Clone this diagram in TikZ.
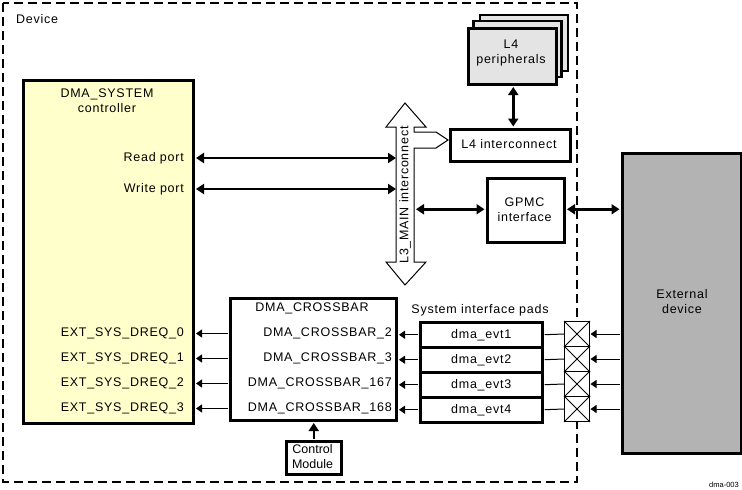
\documentclass[tikz,border=0pt]{standalone}
\usepackage{fontspec}
\setmainfont{Liberation Sans}[LetterSpace=6]
\usetikzlibrary{arrows.meta}
\newcommand\fs{\fontsize{12.5}{15}\selectfont}
\definecolor{dmayellow}{RGB}{255,255,204}
\definecolor{perigray}{RGB}{228,228,228}
\definecolor{extgray}{RGB}{179,179,179}
\tikzset{
  box/.style={draw, line width=2.5pt, inner sep=0pt, anchor=north west},
  txt/.style={inner sep=0pt, font=\fs, align=center},
  thickarrow/.style={line width=2.5pt, {Triangle[length=8pt,width=10pt]}-{Triangle[length=8pt,width=10pt]}},
  singlethick/.style={line width=2.5pt, -{Triangle[length=8pt,width=10pt]}},
  thinarrow/.style={line width=1pt, -{Triangle[length=6pt,width=8pt]}},
  thinline/.style={line width=1pt},
  devborder/.style={line width=2.5pt, dash pattern=on 9pt off 5pt},
  crossbox/.style={draw, line width=1pt, fill=white, inner sep=0pt, anchor=north west, minimum width=25pt, minimum height=25pt},
}
\begin{document}
\begin{tikzpicture}[x=1pt,y=-1pt]
\useasboundingbox (0,0) rectangle (742,490);

% Device border
\draw[devborder] (3,3) rectangle (577,482);
\node[txt, anchor=west] (devlbl) at (16,19) {Device};

% DMA system controller
\node[box, fill=dmayellow, minimum width=170pt, minimum height=343pt] (dma) at (22,79) {};
\node[txt] (dmat) at (107,100.5) {DMA\_SYSTEM\\controller};
\node[txt, anchor=east] (rp) at (184,158) {Read port};
\node[txt, anchor=east] (wp) at (184,189) {Write port};
\foreach \i/\y in {0/333.5,1/358.5,2/383.5,3/408.5}{
  \node[txt, anchor=east] (dreq\i) at (184,\y) {EXT\_SYS\_DREQ\_\i};
}

% L3 main interconnect (hollow double arrow with branch)
\coordinate (l3L) at (396,0);
\coordinate (l3R) at (414,0);
\draw[line width=1pt, fill=white] (405,103) -- (426,127) -- (414,127) -- (414,132) -- (436,132) -- (448,140)
  -- (436,148) -- (414,148) -- (414,262) -- (426,262) -- (405,285) -- (386,262) -- (396,262)
  -- (396,127) -- (386,127) -- cycle;
\node[txt, rotate=90] (l3t) at (405,195) {L3\_MAIN interconnect};

% Read / write arrows
\draw[thickarrow, shorten <=1.5pt] (rp.east -| dma.east) -- (rp.east -| l3L);
\draw[thickarrow, shorten <=1.5pt] (wp.east -| dma.east) -- (wp.east -| l3L);

% L4 peripherals (stack)
\draw[line width=2.5pt, fill=perigray] (480,15) rectangle (568,71);
\draw[line width=2.5pt, fill=perigray] (473.5,21) rectangle (561.5,77);
\node[box, fill=perigray, minimum width=88pt, minimum height=56pt] (l4p) at (467,27) {};
\node[txt] (l4pt) at (511,52.5) {L4\\peripherals};

% L4 interconnect
\node[box, fill=white, minimum width=120pt, minimum height=32pt] (l4i) at (449,128) {};
\node[txt] (l4it) at (509,144) {L4 interconnect};
\draw[thickarrow, shorten <=1.5pt, shorten >=1.5pt] ([xshift=1pt]l4p.south) -- ([xshift=1pt]l4p.south |- l4i.north);

% GPMC interface
\node[box, fill=white, minimum width=77pt, minimum height=64pt] (gpmc) at (486,177) {};
\node[txt] (gpmct) at (524.5,209.5) {GPMC\\interface};

% External device
\node[box, fill=extgray, minimum width=119pt, minimum height=300pt] (ext) at (621,152) {};
\node[txt] (extt) at (682,302) {External\\device};

\draw[thickarrow, shorten <=2pt, shorten >=1.5pt] ([yshift=1pt]gpmc.west -| l3R) -- ([yshift=1pt]gpmc.west);
\draw[thickarrow, shorten <=1.5pt, shorten >=1.5pt] ([yshift=1pt]gpmc.east) -- ([yshift=1pt]gpmc.east -| ext.west);

% DMA crossbar
\node[box, fill=white, minimum width=166pt, minimum height=122pt] (xbar) at (229,297) {};
\node[txt] (xbart) at (312,308) {DMA\_CROSSBAR};
\foreach \i/\n/\y in {0/2/333.5,1/3/358.5,2/167/383.5,3/168/408.5}{
  \node[txt, anchor=east] (xb\i) at (392,\y) {DMA\_CROSSBAR\_\n};
  \draw[thinarrow, shorten <=1.25pt, shorten >=1.5pt] (xbar.west |- dreq\i.east) -- (dma.east |- dreq\i.east);
}

% Control module
\node[box, fill=white, minimum width=55pt, minimum height=33pt] (cm) at (285,440) {};
\node[txt, font=\fs\addfontfeature{LetterSpace=0}] (cmt) at (312.5,456.5) {Control\\Module};
\draw[singlethick, shorten <=1.25pt, shorten >=1.5pt] (cm.north) -- (cm.north |- xbar.south);

% System interface pads
\node[txt] (padlbl) at (480,310) {System interface pads};
\foreach \i/\y in {1/321,2/346,3/371,4/396}{
  \node[box, fill=white, minimum width=122pt, minimum height=25pt] (pad\i) at (419,\y) {};
  \node[txt] (padt\i) at (pad\i.center) {dma\_evt\i};
  \node[crossbox] (cx\i) at (564,\y) {};
  \draw[thinline] (cx\i.north west) -- (cx\i.south east);
  \draw[thinline] (cx\i.north east) -- (cx\i.south west);
  \draw[thinarrow, shorten <=1.25pt, shorten >=1.5pt] (pad\i.west) -- (pad\i.west -| xbar.east);
  \draw[thinline, shorten <=1.25pt] (pad\i.east) -- (cx\i.west);
  \draw[thinarrow, shorten <=1.25pt, shorten >=0.5pt] (cx\i.east -| ext.west) -- (cx\i.east);
}

% figure id
\node[inner sep=0pt, font=\fontsize{7.5}{9}\selectfont\addfontfeature{LetterSpace=0}, anchor=east] (figid) at (739,485) {dma-003};
\end{tikzpicture}
\end{document}
